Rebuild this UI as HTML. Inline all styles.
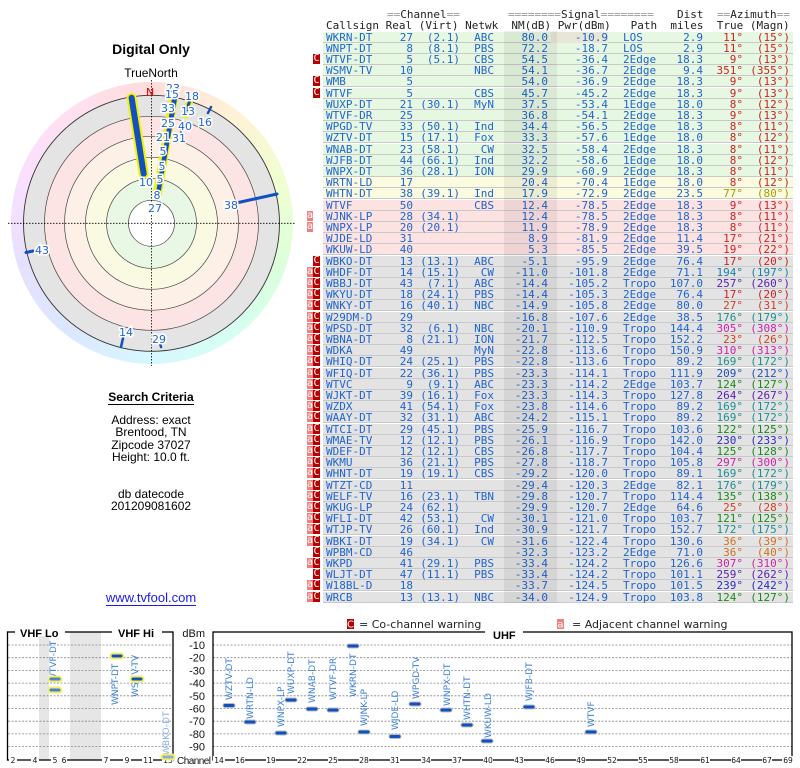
<!DOCTYPE html>
<html><head><meta charset="utf-8">
<style>
body{margin:0;width:800px;height:768px;background:#fff;position:relative;overflow:hidden;font-family:"Liberation Sans","DejaVu Sans",sans-serif}
.t{position:absolute;left:0;width:302px;text-align:center;font-size:13px;color:#000;line-height:13px}
.hd{position:absolute;font-family:"DejaVu Sans Mono",monospace;font-size:11px;line-height:11px;white-space:pre;color:#222}
.hd i{font-style:normal;color:#999}
.r{position:absolute;left:323px;width:470px;height:11.2px;box-sizing:border-box;border-bottom:1px solid #c9c9c9;font-family:"DejaVu Sans Mono",monospace;font-size:11px;line-height:11px;color:#1e64d2;white-space:pre}
.r span{position:absolute;top:0}
.g{background:#e7f8e2}.y{background:#fbfbe0}.k{background:#fde2e2}.e{background:#e3e3e3}
.a{left:3px}
.b{left:50px;width:40px;text-align:right}
.v{left:92px;width:45px;text-align:right}
.n{left:140px;width:31px;text-align:right}
.s{left:180px;width:45px;text-align:right}
.p{left:228px;width:57px;text-align:right}
.h{left:300px}
.d{left:335px;width:45px;text-align:right}
.w{left:383px;width:37px;text-align:right}
.u{left:422px;width:45px;text-align:right}
.r b{position:absolute;top:0;height:10px;width:7px;font-weight:normal;color:#fff;text-align:center;font-size:10px;line-height:10px}
.C{left:-10px;background:#b80000}
.A{left:-16px;width:6px!important;background:#f08080}
.z1{color:#cc2222}.z2{color:#d04020}.z3{color:#d07020}.z4{color:#a0a000}.z5{color:#188a18}.z6{color:#1a9090}.z7{color:#1a7fa8}.z8{color:#2050c0}.z9{color:#2a2ac8}.z10{color:#5a20b8}.z11{color:#cc22aa}
#stripe{position:absolute;left:504px;top:31px;width:53px;height:572px;background:rgba(0,0,0,0.06)}
</style></head><body>

<div class="t" style="top:43px;font-size:14px;font-weight:bold">Digital Only</div>
<div class="t" style="top:67px;font-size:12px">TrueNorth</div>
<div style="position:absolute;left:10.5px;top:82.3px;width:282px;height:282px;border-radius:50%;background:conic-gradient(from 0deg,hsl(0,100%,93%),hsl(40,100%,92%),hsl(80,100%,91%),hsl(120,100%,93%),hsl(160,100%,92%),hsl(190,100%,92%),hsl(220,100%,93%),hsl(250,100%,94%),hsl(290,100%,94%),hsl(330,100%,94%),hsl(360,100%,93%))"></div>
<svg style="position:absolute;left:0;top:0" width="302" height="380" font-family="DejaVu Sans,sans-serif">
<circle cx="151.5" cy="223.3" r="128" fill="#e4e4e4" stroke="#333" stroke-width="0.9"/>
<circle cx="151.5" cy="223.3" r="107" fill="#fde4e4" stroke="#444" stroke-width="0.7"/>
<circle cx="151.5" cy="223.3" r="87" fill="#fdf0e6" stroke="#444" stroke-width="0.7"/>
<circle cx="151.5" cy="223.3" r="66" fill="#fafae2" stroke="#444" stroke-width="0.7"/>
<circle cx="151.5" cy="223.3" r="45" fill="#e8f8e4" stroke="#444" stroke-width="0.7"/>
<circle cx="151.5" cy="223.3" r="23" fill="#fff" stroke="#444" stroke-width="0.7"/>
<line x1="8" y1="223.3" x2="295" y2="223.3" stroke="#000" stroke-width="0.8" stroke-dasharray="1.5,1.5"/>
<line x1="151.5" y1="80" x2="151.5" y2="366" stroke="#000" stroke-width="0.8" stroke-dasharray="1.5,1.5"/>
<text x="146" y="96" font-size="11" fill="#e00000">N</text>
<g stroke-linecap="round">
<line x1="143.7" y1="173.9" x2="131.6" y2="97.8" stroke="#f5f000" stroke-width="10"/>
<line x1="143.7" y1="173.9" x2="131.6" y2="97.8" stroke="#1050c0" stroke-width="6"/>
<line x1="157.5" y1="193" x2="173.5" y2="98.5" stroke="#f5f000" stroke-width="9"/>
<line x1="157.5" y1="193" x2="173.5" y2="98.5" stroke="#1050c0" stroke-width="3"/>
<line x1="160" y1="190" x2="176" y2="99" stroke="#1050c0" stroke-width="2"/>
<line x1="185" y1="115" x2="190" y2="100" stroke="#f5f000" stroke-width="7"/>
<line x1="185" y1="115" x2="190" y2="100" stroke="#1050c0" stroke-width="3"/>
<line x1="208" y1="113" x2="211" y2="107" stroke="#1050c0" stroke-width="2.5"/>
<line x1="236" y1="203" x2="277" y2="194" stroke="#1050c0" stroke-width="3"/>
<line x1="26" y1="252.5" x2="33" y2="251" stroke="#1050c0" stroke-width="3"/>
<line x1="121" y1="347" x2="123.5" y2="336" stroke="#1050c0" stroke-width="2.5"/>
<line x1="161" y1="347" x2="159.5" y2="341" stroke="#1050c0" stroke-width="2.5"/>
<line x1="181" y1="132" x2="182" y2="129" stroke="#1050c0" stroke-width="2"/>
</g>
<g font-size="11" fill="#1e64d2" stroke="#fff" stroke-width="3" paint-order="stroke" text-anchor="middle">
<text x="155" y="212">27</text><text x="157" y="199">8</text><text x="160" y="183">5</text><text x="162" y="170">5</text><text x="163" y="155">5</text>
<text x="163" y="141">21</text><text x="168" y="127">25</text><text x="168" y="112">33</text><text x="173" y="92">23</text><text x="172" y="98">15</text>
<text x="188" y="115">13</text><text x="192" y="100">18</text><text x="185" y="130">40</text><text x="179" y="142">31</text><text x="205" y="126">16</text>
<text x="146" y="186">10</text><text x="231" y="209">38</text><text x="42" y="254">43</text><text x="126" y="336">14</text><text x="159" y="343">29</text>
</g>
</svg>

<div class="t" style="top:391px;font-weight:bold;font-size:12px"><span style="border-bottom:1.5px solid #000">Search Criteria</span></div>
<div class="t" style="top:414px;font-size:12px;line-height:12.3px">Address: exact<br>Brentood, TN<br>Zipcode 37027<br>Height: 10.0 ft.</div>
<div class="t" style="top:488px;font-size:12px;line-height:12.3px">db datecode<br>201209081602</div>
<div class="t" style="top:591px;font-size:13px;color:#1a1aee"><span style="border-bottom:1px solid #1a1aee">www.tvfool.com</span></div>

<div class="hd" style="left:387px;top:9px"><i>==</i>Channel<i>==</i></div>
<div class="hd" style="left:508px;top:9px"><i>========</i>Signal<i>========</i></div>
<div class="hd" style="left:677px;top:9px">Dist</div>
<div class="hd" style="left:717px;top:9px"><i>==</i>Azimuth<i>==</i></div>
<div class="hd" style="left:326px;top:20px">Callsign Real (Virt) Netwk  NM(dB) Pwr(dBm)   Path  miles  True (Magn)</div>

<div class="r g" style="top:31.5px"><span class="a">WKRN-DT</span><span class="b">27</span><span class="v">(2.1)</span><span class="n">ABC</span><span class="s">80.0</span><span class="p" style="background:#e8e6d6">-10.9</span><span class="h">LOS</span><span class="d">2.9</span><span class="w z1">11°</span><span class="u z1">(15°)</span></div>
<div class="r g" style="top:42.7px"><span class="a">WNPT-DT</span><span class="b">8</span><span class="v">(8.1)</span><span class="n">PBS</span><span class="s">72.2</span><span class="p">-18.7</span><span class="h">LOS</span><span class="d">2.9</span><span class="w z1">11°</span><span class="u z1">(15°)</span></div>
<div class="r g" style="top:53.9px"><b class="C">C</b><span class="a">WTVF-DT</span><span class="b">5</span><span class="v">(5.1)</span><span class="n">CBS</span><span class="s">54.5</span><span class="p">-36.4</span><span class="h">2Edge</span><span class="d">18.3</span><span class="w z1">9°</span><span class="u z1">(13°)</span></div>
<div class="r g" style="top:65.1px"><span class="a">WSMV-TV</span><span class="b">10</span><span class="n">NBC</span><span class="s">54.1</span><span class="p">-36.7</span><span class="h">2Edge</span><span class="d">9.4</span><span class="w z1">351°</span><span class="u z1">(355°)</span></div>
<div class="r g" style="top:76.3px"><b class="C">C</b><span class="a">WMB</span><span class="b">5</span><span class="s">54.0</span><span class="p">-36.9</span><span class="h">2Edge</span><span class="d">18.3</span><span class="w z1">9°</span><span class="u z1">(13°)</span></div>
<div class="r g" style="top:87.5px"><b class="C">C</b><span class="a">WTVF</span><span class="b">5</span><span class="n">CBS</span><span class="s">45.7</span><span class="p">-45.2</span><span class="h">2Edge</span><span class="d">18.3</span><span class="w z1">9°</span><span class="u z1">(13°)</span></div>
<div class="r g" style="top:98.7px"><span class="a">WUXP-DT</span><span class="b">21</span><span class="v">(30.1)</span><span class="n">MyN</span><span class="s">37.5</span><span class="p">-53.4</span><span class="h">1Edge</span><span class="d">18.0</span><span class="w z1">8°</span><span class="u z1">(12°)</span></div>
<div class="r g" style="top:109.9px"><span class="a">WTVF-DR</span><span class="b">25</span><span class="s">36.8</span><span class="p">-54.1</span><span class="h">2Edge</span><span class="d">18.3</span><span class="w z1">9°</span><span class="u z1">(13°)</span></div>
<div class="r g" style="top:121.1px"><span class="a">WPGD-TV</span><span class="b">33</span><span class="v">(50.1)</span><span class="n">Ind</span><span class="s">34.4</span><span class="p">-56.5</span><span class="h">2Edge</span><span class="d">18.3</span><span class="w z1">8°</span><span class="u z1">(11°)</span></div>
<div class="r g" style="top:132.3px"><span class="a">WZTV-DT</span><span class="b">15</span><span class="v">(17.1)</span><span class="n">Fox</span><span class="s">33.3</span><span class="p">-57.6</span><span class="h">1Edge</span><span class="d">18.0</span><span class="w z1">8°</span><span class="u z1">(12°)</span></div>
<div class="r g" style="top:143.5px"><span class="a">WNAB-DT</span><span class="b">23</span><span class="v">(58.1)</span><span class="n">CW</span><span class="s">32.5</span><span class="p">-58.4</span><span class="h">2Edge</span><span class="d">18.3</span><span class="w z1">8°</span><span class="u z1">(11°)</span></div>
<div class="r g" style="top:154.7px"><span class="a">WJFB-DT</span><span class="b">44</span><span class="v">(66.1)</span><span class="n">Ind</span><span class="s">32.2</span><span class="p">-58.6</span><span class="h">1Edge</span><span class="d">18.0</span><span class="w z1">8°</span><span class="u z1">(12°)</span></div>
<div class="r g" style="top:165.9px"><span class="a">WNPX-DT</span><span class="b">36</span><span class="v">(28.1)</span><span class="n">ION</span><span class="s">29.9</span><span class="p">-60.9</span><span class="h">2Edge</span><span class="d">18.3</span><span class="w z1">8°</span><span class="u z1">(11°)</span></div>
<div class="r y" style="top:177.1px"><span class="a">WRTN-LD</span><span class="b">17</span><span class="s">20.4</span><span class="p">-70.4</span><span class="h">1Edge</span><span class="d">18.0</span><span class="w z1">8°</span><span class="u z1">(12°)</span></div>
<div class="r y" style="top:188.3px"><span class="a">WHTN-DT</span><span class="b">38</span><span class="v">(39.1)</span><span class="n">Ind</span><span class="s">17.9</span><span class="p">-72.9</span><span class="h">2Edge</span><span class="d">23.5</span><span class="w z4">77°</span><span class="u z4">(80°)</span></div>
<div class="r k" style="top:199.5px"><span class="a">WTVF</span><span class="b">50</span><span class="n">CBS</span><span class="s">12.4</span><span class="p">-78.5</span><span class="h">2Edge</span><span class="d">18.3</span><span class="w z1">9°</span><span class="u z1">(13°)</span></div>
<div class="r k" style="top:210.7px"><b class="A">a</b><span class="a">WJNK-LP</span><span class="b">28</span><span class="v">(34.1)</span><span class="s">12.4</span><span class="p">-78.5</span><span class="h">2Edge</span><span class="d">18.3</span><span class="w z1">8°</span><span class="u z1">(11°)</span></div>
<div class="r k" style="top:221.9px"><b class="A">a</b><span class="a">WNPX-LP</span><span class="b">20</span><span class="v">(20.1)</span><span class="s">11.9</span><span class="p">-78.9</span><span class="h">2Edge</span><span class="d">18.3</span><span class="w z1">8°</span><span class="u z1">(11°)</span></div>
<div class="r k" style="top:233.1px"><span class="a">WJDE-LD</span><span class="b">31</span><span class="s">8.9</span><span class="p">-81.9</span><span class="h">2Edge</span><span class="d">11.4</span><span class="w z1">17°</span><span class="u z1">(21°)</span></div>
<div class="r k" style="top:244.3px"><span class="a">WKUW-LD</span><span class="b">40</span><span class="s">5.3</span><span class="p">-85.5</span><span class="h">2Edge</span><span class="d">39.5</span><span class="w z1">19°</span><span class="u z1">(22°)</span></div>
<div class="r e" style="top:255.5px"><b class="C">C</b><span class="a">WBKO-DT</span><span class="b">13</span><span class="v">(13.1)</span><span class="n">ABC</span><span class="s">-5.1</span><span class="p">-95.9</span><span class="h">2Edge</span><span class="d">76.4</span><span class="w z1">17°</span><span class="u z1">(20°)</span></div>
<div class="r e" style="top:266.7px"><b class="A">a</b><b class="C">C</b><span class="a">WHDF-DT</span><span class="b">14</span><span class="v">(15.1)</span><span class="n">CW</span><span class="s">-11.0</span><span class="p">-101.8</span><span class="h">2Edge</span><span class="d">71.1</span><span class="w z7">194°</span><span class="u z7">(197°)</span></div>
<div class="r e" style="top:277.9px"><b class="A">a</b><b class="C">C</b><span class="a">WBBJ-DT</span><span class="b">43</span><span class="v">(7.1)</span><span class="n">ABC</span><span class="s">-14.4</span><span class="p">-105.2</span><span class="h">Tropo</span><span class="d">107.0</span><span class="w z10">257°</span><span class="u z10">(260°)</span></div>
<div class="r e" style="top:289.1px"><b class="A">a</b><b class="C">C</b><span class="a">WKYU-DT</span><span class="b">18</span><span class="v">(24.1)</span><span class="n">PBS</span><span class="s">-14.4</span><span class="p">-105.3</span><span class="h">2Edge</span><span class="d">76.4</span><span class="w z1">17°</span><span class="u z1">(20°)</span></div>
<div class="r e" style="top:300.3px"><b class="A">a</b><b class="C">C</b><span class="a">WNKY-DT</span><span class="b">16</span><span class="v">(40.1)</span><span class="n">NBC</span><span class="s">-14.9</span><span class="p">-105.8</span><span class="h">2Edge</span><span class="d">80.0</span><span class="w z2">27°</span><span class="u z2">(31°)</span></div>
<div class="r e" style="top:311.5px"><b class="A">a</b><b class="C">C</b><span class="a">W29DM-D</span><span class="b">29</span><span class="s">-16.8</span><span class="p">-107.6</span><span class="h">2Edge</span><span class="d">38.5</span><span class="w z6">176°</span><span class="u z6">(179°)</span></div>
<div class="r e" style="top:322.7px"><b class="A">a</b><b class="C">C</b><span class="a">WPSD-DT</span><span class="b">32</span><span class="v">(6.1)</span><span class="n">NBC</span><span class="s">-20.1</span><span class="p">-110.9</span><span class="h">Tropo</span><span class="d">144.4</span><span class="w z11">305°</span><span class="u z11">(308°)</span></div>
<div class="r e" style="top:333.9px"><b class="A">a</b><b class="C">C</b><span class="a">WBNA-DT</span><span class="b">8</span><span class="v">(21.1)</span><span class="n">ION</span><span class="s">-21.7</span><span class="p">-112.5</span><span class="h">Tropo</span><span class="d">152.2</span><span class="w z2">23°</span><span class="u z2">(26°)</span></div>
<div class="r e" style="top:345.1px"><b class="A">a</b><b class="C">C</b><span class="a">WDKA</span><span class="b">49</span><span class="n">MyN</span><span class="s">-22.8</span><span class="p">-113.6</span><span class="h">Tropo</span><span class="d">150.9</span><span class="w z11">310°</span><span class="u z11">(313°)</span></div>
<div class="r e" style="top:356.3px"><b class="A">a</b><b class="C">C</b><span class="a">WHIQ-DT</span><span class="b">24</span><span class="v">(25.1)</span><span class="n">PBS</span><span class="s">-22.8</span><span class="p">-113.6</span><span class="h">Tropo</span><span class="d">89.2</span><span class="w z6">169°</span><span class="u z6">(172°)</span></div>
<div class="r e" style="top:367.5px"><b class="A">a</b><b class="C">C</b><span class="a">WFIQ-DT</span><span class="b">22</span><span class="v">(36.1)</span><span class="n">PBS</span><span class="s">-23.3</span><span class="p">-114.1</span><span class="h">Tropo</span><span class="d">111.9</span><span class="w z8">209°</span><span class="u z8">(212°)</span></div>
<div class="r e" style="top:378.7px"><b class="A">a</b><b class="C">C</b><span class="a">WTVC</span><span class="b">9</span><span class="v">(9.1)</span><span class="n">ABC</span><span class="s">-23.3</span><span class="p">-114.2</span><span class="h">2Edge</span><span class="d">103.7</span><span class="w z5">124°</span><span class="u z5">(127°)</span></div>
<div class="r e" style="top:389.9px"><b class="A">a</b><b class="C">C</b><span class="a">WJKT-DT</span><span class="b">39</span><span class="v">(16.1)</span><span class="n">Fox</span><span class="s">-23.3</span><span class="p">-114.3</span><span class="h">Tropo</span><span class="d">127.8</span><span class="w z10">264°</span><span class="u z10">(267°)</span></div>
<div class="r e" style="top:401.1px"><b class="A">a</b><b class="C">C</b><span class="a">WZDX</span><span class="b">41</span><span class="v">(54.1)</span><span class="n">Fox</span><span class="s">-23.8</span><span class="p">-114.6</span><span class="h">Tropo</span><span class="d">89.2</span><span class="w z6">169°</span><span class="u z6">(172°)</span></div>
<div class="r e" style="top:412.3px"><b class="A">a</b><b class="C">C</b><span class="a">WAAY-DT</span><span class="b">32</span><span class="v">(31.1)</span><span class="n">ABC</span><span class="s">-24.2</span><span class="p">-115.1</span><span class="h">Tropo</span><span class="d">89.2</span><span class="w z6">169°</span><span class="u z6">(172°)</span></div>
<div class="r e" style="top:423.5px"><b class="A">a</b><b class="C">C</b><span class="a">WTCI-DT</span><span class="b">29</span><span class="v">(45.1)</span><span class="n">PBS</span><span class="s">-25.9</span><span class="p">-116.7</span><span class="h">Tropo</span><span class="d">103.6</span><span class="w z5">122°</span><span class="u z5">(125°)</span></div>
<div class="r e" style="top:434.7px"><b class="A">a</b><b class="C">C</b><span class="a">WMAE-TV</span><span class="b">12</span><span class="v">(12.1)</span><span class="n">PBS</span><span class="s">-26.1</span><span class="p">-116.9</span><span class="h">Tropo</span><span class="d">142.0</span><span class="w z9">230°</span><span class="u z9">(233°)</span></div>
<div class="r e" style="top:445.9px"><b class="A">a</b><b class="C">C</b><span class="a">WDEF-DT</span><span class="b">12</span><span class="v">(12.1)</span><span class="n">CBS</span><span class="s">-26.8</span><span class="p">-117.7</span><span class="h">Tropo</span><span class="d">104.4</span><span class="w z5">125°</span><span class="u z5">(128°)</span></div>
<div class="r e" style="top:457.1px"><b class="A">a</b><b class="C">C</b><span class="a">WKMU</span><span class="b">36</span><span class="v">(21.1)</span><span class="n">PBS</span><span class="s">-27.8</span><span class="p">-118.7</span><span class="h">Tropo</span><span class="d">105.8</span><span class="w z11">297°</span><span class="u z11">(300°)</span></div>
<div class="r e" style="top:468.3px"><b class="A">a</b><b class="C">C</b><span class="a">WHNT-DT</span><span class="b">19</span><span class="v">(19.1)</span><span class="n">CBS</span><span class="s">-29.2</span><span class="p">-120.0</span><span class="h">Tropo</span><span class="d">89.1</span><span class="w z6">169°</span><span class="u z6">(172°)</span></div>
<div class="r e" style="top:479.5px"><b class="A">a</b><b class="C">C</b><span class="a">WTZT-CD</span><span class="b">11</span><span class="s">-29.4</span><span class="p">-120.3</span><span class="h">2Edge</span><span class="d">82.1</span><span class="w z6">176°</span><span class="u z6">(179°)</span></div>
<div class="r e" style="top:490.7px"><b class="A">a</b><b class="C">C</b><span class="a">WELF-TV</span><span class="b">16</span><span class="v">(23.1)</span><span class="n">TBN</span><span class="s">-29.8</span><span class="p">-120.7</span><span class="h">Tropo</span><span class="d">114.4</span><span class="w z5">135°</span><span class="u z5">(138°)</span></div>
<div class="r e" style="top:501.9px"><b class="A">a</b><b class="C">C</b><span class="a">WKUG-LP</span><span class="b">24</span><span class="v">(62.1)</span><span class="s">-29.9</span><span class="p">-120.7</span><span class="h">2Edge</span><span class="d">64.6</span><span class="w z2">25°</span><span class="u z2">(28°)</span></div>
<div class="r e" style="top:513.1px"><b class="A">a</b><b class="C">C</b><span class="a">WFLI-DT</span><span class="b">42</span><span class="v">(53.1)</span><span class="n">CW</span><span class="s">-30.1</span><span class="p">-121.0</span><span class="h">Tropo</span><span class="d">103.7</span><span class="w z5">121°</span><span class="u z5">(125°)</span></div>
<div class="r e" style="top:524.3px"><b class="A">a</b><b class="C">C</b><span class="a">WTJP-TV</span><span class="b">26</span><span class="v">(60.1)</span><span class="n">Ind</span><span class="s">-30.9</span><span class="p">-121.7</span><span class="h">Tropo</span><span class="d">152.7</span><span class="w z6">172°</span><span class="u z6">(175°)</span></div>
<div class="r e" style="top:535.5px"><b class="A">a</b><b class="C">C</b><span class="a">WBKI-DT</span><span class="b">19</span><span class="v">(34.1)</span><span class="n">CW</span><span class="s">-31.6</span><span class="p">-122.4</span><span class="h">Tropo</span><span class="d">130.6</span><span class="w z3">36°</span><span class="u z3">(39°)</span></div>
<div class="r e" style="top:546.7px"><b class="C">C</b><span class="a">WPBM-CD</span><span class="b">46</span><span class="s">-32.3</span><span class="p">-123.2</span><span class="h">2Edge</span><span class="d">71.0</span><span class="w z3">36°</span><span class="u z3">(40°)</span></div>
<div class="r e" style="top:557.9px"><b class="A">a</b><b class="C">C</b><span class="a">WKPD</span><span class="b">41</span><span class="v">(29.1)</span><span class="n">PBS</span><span class="s">-33.4</span><span class="p">-124.2</span><span class="h">Tropo</span><span class="d">126.6</span><span class="w z11">307°</span><span class="u z11">(310°)</span></div>
<div class="r e" style="top:569.1px"><b class="C">C</b><span class="a">WLJT-DT</span><span class="b">47</span><span class="v">(11.1)</span><span class="n">PBS</span><span class="s">-33.4</span><span class="p">-124.2</span><span class="h">Tropo</span><span class="d">101.1</span><span class="w z10">259°</span><span class="u z10">(262°)</span></div>
<div class="r e" style="top:580.3px"><b class="A">a</b><b class="C">C</b><span class="a">W18BL-D</span><span class="b">18</span><span class="s">-33.7</span><span class="p">-124.5</span><span class="h">Tropo</span><span class="d">101.5</span><span class="w z9">239°</span><span class="u z9">(242°)</span></div>
<div class="r e" style="top:591.5px"><b class="A">a</b><b class="C">C</b><span class="a">WRCB</span><span class="b">13</span><span class="v">(13.1)</span><span class="n">NBC</span><span class="s">-34.0</span><span class="p">-124.9</span><span class="h">Tropo</span><span class="d">103.8</span><span class="w z5">124°</span><span class="u z5">(127°)</span></div>
<div id="stripe"></div>

<svg style="position:absolute;left:0;top:610px" width="800" height="158" font-family="DejaVu Sans,sans-serif">
<g transform="translate(0,-610)">
<rect x="347" y="619" width="7" height="10" fill="#b80000"/><text x="350.5" y="627.5" font-size="10" fill="#fff" text-anchor="middle">C</text>
<text x="359" y="628" font-size="11" fill="#222">= Co-channel warning</text>
<rect x="557" y="619" width="7" height="10" fill="#f08080"/><text x="560.5" y="627.5" font-size="10" fill="#fff" text-anchor="middle">a</text>
<text x="572" y="628" font-size="11" fill="#222">= Adjacent channel warning</text>
<rect x="39" y="632" width="10" height="128" fill="#e6e6e6"/>
<rect x="70" y="632" width="31" height="128" fill="#e6e6e6"/>
<g stroke="#888" stroke-width="0.8" stroke-dasharray="2,1.5">
<line x1="8" x2="173" y1="645" y2="645"/><line x1="8" x2="173" y1="657.7" y2="657.7"/><line x1="8" x2="173" y1="670.4" y2="670.4"/><line x1="8" x2="173" y1="683.1" y2="683.1"/><line x1="8" x2="173" y1="695.8" y2="695.8"/><line x1="8" x2="173" y1="708.5" y2="708.5"/><line x1="8" x2="173" y1="721.2" y2="721.2"/><line x1="8" x2="173" y1="733.9" y2="733.9"/><line x1="8" x2="173" y1="746.6" y2="746.6"/>
<line x1="213" x2="792" y1="645" y2="645"/><line x1="213" x2="792" y1="657.7" y2="657.7"/><line x1="213" x2="792" y1="670.4" y2="670.4"/><line x1="213" x2="792" y1="683.1" y2="683.1"/><line x1="213" x2="792" y1="695.8" y2="695.8"/><line x1="213" x2="792" y1="708.5" y2="708.5"/><line x1="213" x2="792" y1="721.2" y2="721.2"/><line x1="213" x2="792" y1="733.9" y2="733.9"/><line x1="213" x2="792" y1="746.6" y2="746.6"/>
</g>
<rect x="7.5" y="632" width="165.5" height="128" fill="none" stroke="#000" stroke-width="1.3"/>
<rect x="213" y="632" width="579" height="128" fill="none" stroke="#000" stroke-width="1.3"/>
<rect x="15" y="626" width="50" height="10" fill="#fff"/><text x="20" y="637" font-size="11" font-weight="bold" font-family="Liberation Sans,sans-serif">VHF Lo</text>
<rect x="112" y="626" width="50" height="10" fill="#fff"/><text x="118" y="637" font-size="11" font-weight="bold" font-family="Liberation Sans,sans-serif">VHF Hi</text>
<rect x="485" y="626" width="38" height="10" fill="#fff"/><text x="493" y="639" font-size="11" font-weight="bold" font-family="Liberation Sans,sans-serif">UHF</text>
<g font-size="11" text-anchor="end" fill="#111" font-family="Liberation Sans,sans-serif">
<text x="205" y="637">dBm</text>
<text x="205" y="649">-10</text><text x="205" y="661.7">-20</text><text x="205" y="674.4">-30</text><text x="205" y="687.1">-40</text><text x="205" y="699.8">-50</text><text x="205" y="712.5">-60</text><text x="205" y="725.2">-70</text><text x="205" y="737.9">-80</text><text x="205" y="750.6">-90</text>
</g>
<text x="177" y="764" font-size="10" fill="#111" font-family="Liberation Sans,sans-serif" textLength="34">Channel</text>
<g font-size="7.5" text-anchor="middle" fill="#111">
<g fill="#fff"><rect x="9" y="756" width="8" height="8"/><rect x="31" y="756" width="8" height="8"/><rect x="51" y="756" width="16" height="8"/><rect x="102" y="756" width="8" height="8"/><rect x="123" y="756" width="8" height="8"/><rect x="142" y="756" width="11" height="8"/><rect x="162" y="756" width="11" height="8"/></g>
<text x="13" y="763">2</text><text x="35" y="763">4</text><text x="55" y="763">5</text><text x="64" y="763">6</text><text x="106" y="763">7</text><text x="127" y="763">9</text><text x="148" y="763">11</text><text x="168" y="763">13</text>
<g fill="#fff"><rect x="213" y="756" width="12" height="8"/><rect x="235" y="756" width="10" height="8"/><rect x="266" y="756" width="10" height="8"/><rect x="297" y="756" width="10" height="8"/><rect x="328" y="756" width="10" height="8"/><rect x="359" y="756" width="10" height="8"/><rect x="390" y="756" width="10" height="8"/><rect x="421" y="756" width="10" height="8"/><rect x="452" y="756" width="10" height="8"/><rect x="483" y="756" width="10" height="8"/><rect x="514" y="756" width="10" height="8"/><rect x="545" y="756" width="10" height="8"/><rect x="576" y="756" width="10" height="8"/><rect x="607" y="756" width="10" height="8"/><rect x="638" y="756" width="10" height="8"/><rect x="669" y="756" width="10" height="8"/><rect x="700" y="756" width="10" height="8"/><rect x="731" y="756" width="10" height="8"/><rect x="762" y="756" width="10" height="8"/><rect x="782" y="756" width="12" height="8"/></g>
<text x="219" y="763">14</text><text x="240" y="763">16</text><text x="271" y="763">19</text><text x="302" y="763">22</text><text x="333" y="763">25</text><text x="364" y="763">28</text><text x="395" y="763">31</text><text x="426" y="763">34</text><text x="457" y="763">37</text><text x="488" y="763">40</text><text x="519" y="763">43</text><text x="550" y="763">46</text><text x="581" y="763">49</text><text x="612" y="763">52</text><text x="643" y="763">55</text><text x="674" y="763">58</text><text x="705" y="763">61</text><text x="736" y="763">64</text><text x="767" y="763">67</text><text x="788" y="763">69</text>
</g>
<g font-size="9" fill="#3b7fd8">
<text transform="translate(56,682) rotate(-90)">WTVF-DT</text>
<text transform="translate(118,705) rotate(-90)">WNPT-DT</text>
<text transform="translate(138,697) rotate(-90)">WSMV-TV</text>
<text transform="translate(169,755) rotate(-90)" fill="#8ab0e8">WBKO-DT</text>
<text transform="translate(232,700) rotate(-90)">WZTV-DT</text>
<text transform="translate(253,719) rotate(-90)">WRTN-LD</text>
<text transform="translate(284,727) rotate(-90)">WNPX-LP</text>
<text transform="translate(294,694) rotate(-90)">WUXP-DT</text>
<text transform="translate(315,703) rotate(-90)">WNAB-DT</text>
<text transform="translate(336,700) rotate(-90)">WTVF-DR</text>
<text transform="translate(356,697) rotate(-90)">WKRN-DT</text>
<text transform="translate(367,726) rotate(-90)">WJNK-LP</text>
<text transform="translate(398,730) rotate(-90)">WJDE-LD</text>
<text transform="translate(419,699) rotate(-90)">WPGD-TV</text>
<text transform="translate(450,706) rotate(-90)">WNPX-DT</text>
<text transform="translate(470,720) rotate(-90)">WHTN-DT</text>
<text transform="translate(491,738) rotate(-90)">WKUW-LD</text>
<text transform="translate(532,701) rotate(-90)">WJFB-DT</text>
<text transform="translate(594,727) rotate(-90)">WTVF</text>
</g>
<g stroke-linecap="round">
<g stroke="#f2f060" stroke-width="7">
<line x1="51" x2="59" y1="679" y2="679"/><line x1="51" x2="59" y1="690" y2="690"/><line x1="113" x2="121" y1="656" y2="656"/><line x1="133" x2="141" y1="679" y2="679"/><line x1="164" x2="172" y1="757" y2="757"/>
</g>
<g stroke="#bbb" stroke-width="5">
<line x1="225" x2="233" y1="705.5" y2="705.5"/><line x1="246" x2="254" y1="722" y2="722"/><line x1="277" x2="285" y1="733" y2="733"/><line x1="287" x2="295" y1="700" y2="700"/><line x1="308" x2="316" y1="709" y2="709"/><line x1="329" x2="337" y1="710" y2="710"/><line x1="349" x2="357" y1="646" y2="646"/><line x1="360" x2="368" y1="732" y2="732"/><line x1="391" x2="399" y1="736.5" y2="736.5"/><line x1="411" x2="419" y1="704" y2="704"/><line x1="442" x2="450" y1="710" y2="710"/><line x1="463" x2="471" y1="725" y2="725"/><line x1="483" x2="491" y1="741" y2="741"/><line x1="525" x2="533" y1="707" y2="707"/><line x1="587" x2="595" y1="732" y2="732"/>
</g>
<g stroke="#1050c0" stroke-width="3">
<line x1="51" x2="59" y1="679" y2="679" stroke="#4a80d8"/><line x1="51" x2="59" y1="690" y2="690" stroke="#4a80d8"/><line x1="113" x2="121" y1="656" y2="656"/><line x1="133" x2="141" y1="679" y2="679"/><line x1="164" x2="172" y1="757" y2="757" stroke="#8ab0e8"/>
<line x1="225" x2="233" y1="705.5" y2="705.5"/><line x1="246" x2="254" y1="722" y2="722"/><line x1="277" x2="285" y1="733" y2="733"/><line x1="287" x2="295" y1="700" y2="700"/><line x1="308" x2="316" y1="709" y2="709"/><line x1="329" x2="337" y1="710" y2="710"/><line x1="349" x2="357" y1="646" y2="646"/><line x1="360" x2="368" y1="732" y2="732"/><line x1="391" x2="399" y1="736.5" y2="736.5"/><line x1="411" x2="419" y1="704" y2="704"/><line x1="442" x2="450" y1="710" y2="710"/><line x1="463" x2="471" y1="725" y2="725"/><line x1="483" x2="491" y1="741" y2="741"/><line x1="525" x2="533" y1="707" y2="707"/><line x1="587" x2="595" y1="732" y2="732"/>
</g>
</g>
</g>
</svg>
</body></html>
